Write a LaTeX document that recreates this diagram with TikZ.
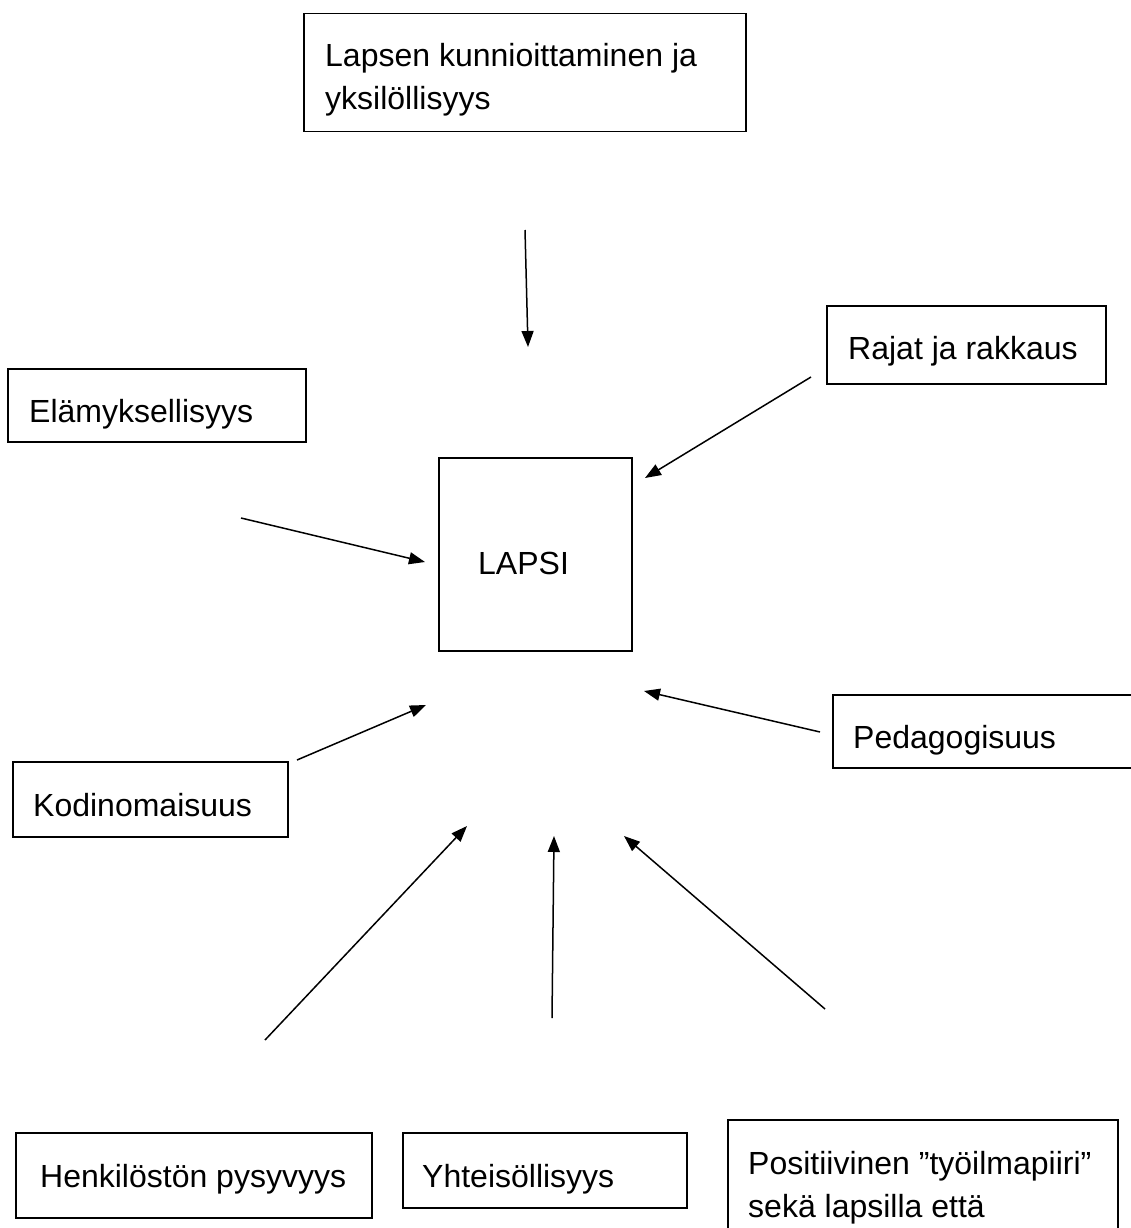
\documentclass[tikz,border=0pt]{standalone}
\usepackage{fontspec}
\setmainfont{Liberation Sans}
\usetikzlibrary{arrows.meta}
\tikzset{
  box/.style={draw=black, line width=1.5pt, rectangle, inner sep=0pt, anchor=north west},
  lbl/.style={inner sep=0pt, anchor=base west, font=\fontsize{32}{43}\selectfont, text=black},
  arr/.style={draw=black, line width=1.5pt, -{Triangle[length=16pt,width=12pt]}}
}
\begin{document}
\begin{tikzpicture}[x=1pt,y=-1pt]
\useasboundingbox (0,0) rectangle (1130,1228);
\fill[white] (0,0) rectangle (1130,1228);
% boxes
\node[box, minimum width=442pt, minimum height=118pt] (top) at (303,13) {};
\node[lbl] (topA) at (325,67) {Lapsen kunnioittaminen ja};
\node[lbl] (topB) at (325,110) {yksilöllisyys};

\node[box, minimum width=279pt, minimum height=78pt] (raj) at (826,305) {};
\node[lbl] (rajT) at (848,359) {Rajat ja rakkaus};

\node[box, minimum width=298pt, minimum height=73pt] (ela) at (7,368) {};
\node[lbl] (elaT) at (29,422) {Elämyksellisyys};

\node[box, minimum width=193pt, minimum height=193pt] (lapsi) at (438,457) {};
\node[lbl] (lapsiT) at (478,574) {LAPSI};

\node[box, minimum width=320pt, minimum height=73pt] (ped) at (832,694) {};
\node[lbl] (pedT) at (853,748) {Pedagogisuus};

\node[box, minimum width=275pt, minimum height=75pt] (kod) at (12,761) {};
\node[lbl] (kodT) at (33,816) {Kodinomaisuus};

\node[box, minimum width=356pt, minimum height=85pt] (hen) at (15,1132) {};
\node[lbl] (henT) at (40,1187) {Henkilöstön pysyvyys};

\node[box, minimum width=284pt, minimum height=75pt] (yht) at (402,1132) {};
\node[lbl] (yhtT) at (422,1187) {Yhteisöllisyys};

\node[box, minimum width=390pt, minimum height=130pt] (pos) at (727,1119) {};
\node[lbl] (posA) at (748,1174) {Positiivinen ”työilmapiiri”};
\node[lbl] (posB) at (748,1217) {sekä lapsilla että};

% arrow end points
\coordinate (a1s) at (525,230);  \coordinate (a1e) at (528,347);
\coordinate (a2s) at (811,377);  \coordinate (a2e) at (645,478);
\coordinate (a3s) at (241,518);  \coordinate (a3e) at (425,562);
\coordinate (a4s) at (297,760);  \coordinate (a4e) at (426,705);
\coordinate (a5s) at (820,732);  \coordinate (a5e) at (644,691);
\coordinate (a6s) at (265,1040); \coordinate (a6e) at (467,826);
\coordinate (a7s) at (552,1018); \coordinate (a7e) at (554,836);
\coordinate (a8s) at (825,1009); \coordinate (a8e) at (624,836);

\draw[arr] (a1s) -- (a1e);
\draw[arr] (a2s) -- (a2e);
\draw[arr] (a3s) -- (a3e);
\draw[arr] (a4s) -- (a4e);
\draw[arr] (a5s) -- (a5e);
\draw[arr] (a6s) -- (a6e);
\draw[arr] (a7s) -- (a7e);
\draw[arr] (a8s) -- (a8e);
\end{tikzpicture}
\end{document}
